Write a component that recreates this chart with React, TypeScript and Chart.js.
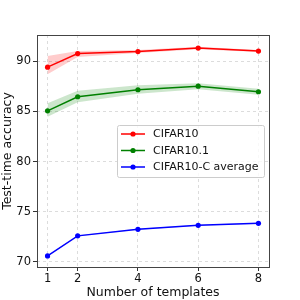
import React, { useEffect, useRef } from "react";
import { Chart, registerables } from "chart.js";

Chart.register(...registerables);

const templates = [1, 2, 4, 6, 8];
const xTicks = [1, 2, 4, 6, 8];
const yTicks = [70, 75, 80, 85, 90];

const cifar10 = [89.4, 90.75, 90.95, 91.3, 91.0];
const cifar10Upper = [90.5, 91.0, 91.1, 91.42, 91.1];
const cifar10Lower = [88.7, 90.4, 90.8, 91.18, 90.9];

const cifar101 = [85.05, 86.45, 87.15, 87.5, 86.95];
const cifar101Upper = [85.8, 87.05, 87.6, 87.8, 87.25];
const cifar101Lower = [84.45, 85.9, 86.75, 87.2, 86.65];

const cifar10c = [70.6, 72.6, 73.25, 73.65, 73.85];
const cifar10cUpper = [70.65, 72.65, 73.3, 73.7, 73.9];
const cifar10cLower = [70.55, 72.55, 73.2, 73.6, 73.8];

const FONT = "'DejaVu Sans', sans-serif";

const pts = (ys: number[]) => templates.map((x, i) => ({ x, y: ys[i] }));

function band(upper: number[], lower: number[], color: string) {
  return [
    {
      label: "_band",
      data: pts(upper),
      borderWidth: 0,
      pointRadius: 0,
      backgroundColor: color,
      fill: "+1",
      order: 10,
    },
    {
      label: "_band",
      data: pts(lower),
      borderWidth: 0,
      pointRadius: 0,
      backgroundColor: color,
      fill: false,
      order: 10,
    },
  ];
}

function line(label: string, ys: number[], color: string) {
  return {
    label,
    data: pts(ys),
    borderColor: color,
    backgroundColor: color,
    borderWidth: 1.5,
    pointRadius: 2.6,
    pointBorderWidth: 0,
    fill: false,
    order: 1,
  };
}

const framePlugin = {
  id: "frame",
  afterDraw(chart: any) {
    const { ctx, chartArea: a } = chart;
    ctx.save();
    ctx.strokeStyle = "#444";
    ctx.lineWidth = 1;
    ctx.strokeRect(Math.round(a.left) + 0.5, Math.round(a.top) + 0.5, Math.round(a.right - a.left), Math.round(a.bottom - a.top));
    // legend
    const items = chart.data.datasets.filter((d: any) => d.label !== "_band");
    const bx = 117.5, by = 125.5, bw = 147, bh = 52;
    ctx.fillStyle = "rgba(255,255,255,0.8)";
    ctx.strokeStyle = "#ccc";
    ctx.lineWidth = 1;
    ctx.beginPath();
    ctx.roundRect(bx, by, bw, bh, 2);
    ctx.fill();
    ctx.stroke();
    ctx.font = `11px ${FONT}`;
    ctx.textBaseline = "middle";
    items.forEach((d: any, i: number) => {
      const y = 134 + i * 16.5;
      ctx.strokeStyle = d.borderColor;
      ctx.lineWidth = 1.5;
      ctx.beginPath();
      ctx.moveTo(121, y);
      ctx.lineTo(145, y);
      ctx.stroke();
      ctx.fillStyle = d.borderColor;
      ctx.beginPath();
      ctx.arc(133, y, 2.6, 0, Math.PI * 2);
      ctx.fill();
      ctx.fillStyle = "#111";
      ctx.fillText(d.label, 153, y + 0.5);
    });
    ctx.restore();
  },
};

export default function App() {
  const ref = useRef<HTMLCanvasElement>(null);
  useEffect(() => {
    const chart = new Chart(ref.current!, {
      type: "line",
      data: {
        datasets: [
          ...band(cifar10Upper, cifar10Lower, "rgba(255,0,0,0.2)"),
          ...band(cifar101Upper, cifar101Lower, "rgba(0,128,0,0.2)"),
          ...band(cifar10cUpper, cifar10cLower, "rgba(0,0,255,0.2)"),
          line("CIFAR10", cifar10, "#ff0000"),
          line("CIFAR10.1", cifar101, "#008000"),
          line("CIFAR10-C average", cifar10c, "#0000ff"),
        ] as any,
      },
      options: {
        animation: false,
        responsive: false,
        devicePixelRatio: 1,
        layout: { padding: { left: 0, right: 31, top: 35, bottom: 0 } },
        plugins: { legend: { display: false }, tooltip: { enabled: false } },
        scales: {
          x: {
            type: "linear",
            min: 0.65,
            max: 8.35,
            afterBuildTicks: (s: any) => {
              s.ticks = xTicks.map((v) => ({ value: v }));
            },
            afterFit: (s: any) => {
              s.height = 33;
            },
            ticks: { color: "#111", font: { family: FONT, size: 11.5 }, padding: 1, maxRotation: 0, autoSkip: false },
            grid: { color: "#dcdcdc", tickColor: "#333", tickLength: 4, tickBorderDash: [] } as any,
            border: { display: false, dash: [3, 3] },
            title: { display: true, text: "Number of templates", color: "#111", font: { family: FONT, size: 12.5 }, padding: { top: 0, bottom: 0 } },
          },
          y: {
            min: 69.5,
            max: 92.6,
            afterBuildTicks: (s: any) => {
              s.ticks = yTicks.map((v) => ({ value: v }));
            },
            afterFit: (s: any) => {
              s.width = 37;
            },
            ticks: { color: "#111", font: { family: FONT, size: 11.5 }, padding: 2 },
            grid: { color: "#dcdcdc", tickColor: "#333", tickLength: 4, tickBorderDash: [] } as any,
            border: { display: false, dash: [3, 3] },
            title: { display: true, text: "Test-time accuracy", color: "#111", font: { family: FONT, size: 12.5 }, padding: { top: 0, bottom: 2 } },
          },
        },
      },
      plugins: [framePlugin],
    });
    return () => chart.destroy();
  }, []);
  return (
    <div style={{ position: "fixed", left: 0, top: 0, width: 300, height: 300, background: "#fff" }}>
      <canvas ref={ref} width={300} height={300} style={{ width: 300, height: 300, display: "block" }} />
    </div>
  );
}
